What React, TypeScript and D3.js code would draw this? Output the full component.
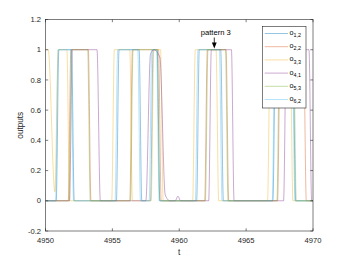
import React from "react";
import * as d3 from "d3";

type P = [number, number];

const seriesNames = ["1,2", "2,2", "3,3", "4,1", "5,3", "6,2"];
const seriesColors = ["#0072BD", "#D95319", "#EDB120", "#7E2F8E", "#77AC30", "#4DBEEE"];

const xTicks = [4950, 4955, 4960, 4965, 4970];
const xTickLabels = ["4950", "4955", "4960", "4965", "4970"];
const yTicks = [-0.2, 0, 0.2, 0.4, 0.6, 0.8, 1, 1.2];
const yTickLabels = ["-0.2", "0", "0.2", "0.4", "0.6", "0.8", "1", "1.2"];

const o12: P[] = [[4950,0],[4950.8,0],[4951.0,1],[4951.95,1],[4952.15,0],[4955.3,0],[4955.5,1],[4957.0,1],[4957.2,0],[4957.85,0],[4958.05,1],[4958.35,1],[4958.55,0],[4961.3,0],[4961.5,1],[4963.1,1],[4963.3,0],[4967.0,0],[4967.2,1],[4968.5,1],[4968.7,0],[4970,0]];
const o22: P[] = [[4950,0],[4951.7,0],[4951.9,1],[4953.2,1],[4953.4,0],[4956.3,0],[4956.5,1],[4958.45,1],[4958.65,0],[4961.9,0],[4962.1,1],[4963.5,1],[4963.7,0],[4967.35,0],[4967.55,1],[4969.3,1],[4969.5,0],[4970,0]];
const o33: P[] = [[4950,1],[4950.2,1],[4950.7,0.06],[4950.95,1],[4951.6,1],[4951.8,0],[4954.95,0],[4955.15,1],[4956.3,1],[4956.5,0],[4957.9,0],[4958.1,1],[4958.6,1],[4958.8,0],[4961.0,0],[4961.2,1],[4962.75,1],[4962.95,0],[4966.6,0],[4966.8,1],[4968.3,1],[4968.5,0],[4970,0]];
const o41: P[] = [[4950,0],[4951.8,0],[4952.0,1],[4953.85,1],[4954.1,0],[4957.5,0],[4957.85,0.97],[4958.1,1],[4958.55,0.95],[4958.95,0.04],[4959.3,0],[4959.7,0],[4959.9,0.03],[4960.1,0],[4962.2,0],[4962.4,1],[4963.9,1],[4964.1,0],[4967.8,0],[4968.0,1],[4969.7,1],[4969.9,0],[4970,0]];
const o53: P[] = [[4950,0],[4951.75,0],[4951.95,1],[4953.15,1],[4953.35,0],[4956.35,0],[4956.55,1],[4958.35,1],[4958.55,0],[4961.95,0],[4962.15,1],[4963.45,1],[4963.65,0],[4967.3,0],[4967.5,1],[4968.55,1],[4968.75,0],[4970,0]];
const o62: P[] = [[4950,0],[4950.75,0],[4950.95,1],[4951.9,1],[4952.1,0],[4955.2,0],[4955.4,1],[4956.9,1],[4957.1,0],[4957.75,0],[4957.95,1],[4958.3,1],[4958.5,0],[4961.2,0],[4961.4,1],[4963.0,1],[4963.2,0],[4966.95,0],[4967.15,1],[4968.45,1],[4968.65,0],[4970,0]];

const seriesData = [o12, o22, o33, o41, o53, o62];

const annotationText = "pattern 3";
const annotationT = 4962.62;

const W = 346, H = 260;
const L = 45.5, R = 313, T = 19.5, B = 231;
const FONT = "'Liberation Sans', Arial, Helvetica, sans-serif";
const AX = "#262626";

export default function App() {
  const x = d3.scaleLinear().domain([4950, 4970]).range([L, R]);
  const y = d3.scaleLinear().domain([-0.2, 1.2]).range([B, T]);
  const line = d3.line<P>().x(d => x(d[0])).y(d => y(d[1])).curve(d3.curveMonotoneX);
  const tl = 2.7;
  const ax = x(annotationT);

  const legX = 262.5, legY = 26.5, legW = 43.5, legH = 81.5;
  const rowY = (i: number) => 33.5 + i * 13.2;

  return (
    <svg width={W} height={H} style={{ position: "absolute", left: 0, top: 0, background: "#fff" }} fontFamily={FONT}>
      <defs>
        <clipPath id="plot"><rect x={L} y={T} width={R - L} height={B - T} /></clipPath>
      </defs>
      <rect x={0} y={0} width={W} height={H} fill="#fff" />
      <g clipPath="url(#plot)">
        {seriesData.map((s, i) => (
          <path key={i} d={line(s) || ""} fill="none" stroke={seriesColors[i]} strokeOpacity={0.55} strokeWidth={0.75} />
        ))}
      </g>
      <rect x={L} y={T} width={R - L} height={B - T} fill="none" stroke={AX} strokeWidth={0.6} />
      {xTicks.map((t, i) => (
        <g key={"x" + i}>
          <line x1={x(t)} x2={x(t)} y1={B} y2={B - tl} stroke={AX} strokeWidth={0.6} />
          <line x1={x(t)} x2={x(t)} y1={T} y2={T + tl} stroke={AX} strokeWidth={0.6} />
          <text x={x(t)} y={243} fontSize={7.6} fill={AX} textAnchor="middle">{xTickLabels[i]}</text>
        </g>
      ))}
      {yTicks.map((v, i) => (
        <g key={"y" + i}>
          <line x1={L} x2={L + tl} y1={y(v)} y2={y(v)} stroke={AX} strokeWidth={0.6} />
          <line x1={R} x2={R - tl} y1={y(v)} y2={y(v)} stroke={AX} strokeWidth={0.6} />
          <text x={41} y={y(v) + 2.7} fontSize={7.6} fill={AX} textAnchor="end">{yTickLabels[i]}</text>
        </g>
      ))}
      <text x={(L + R) / 2} y={255} fontSize={8.2} fill={AX} textAnchor="middle">t</text>
      <text transform={`translate(22.5, ${(T + B) / 2}) rotate(-90)`} fontSize={8.2} fill={AX} textAnchor="middle">outputs</text>
      <text x={ax + 1.5} y={35} fontSize={7.6} fill="#000" textAnchor="middle">{annotationText}</text>
      <line x1={ax} x2={ax} y1={37.5} y2={44} stroke="#000" strokeWidth={0.8} />
      <path d={`M${ax - 2.4},${42.5} L${ax + 2.4},${42.5} L${ax},${48.5} Z`} fill="#000" />
      <rect x={legX} y={legY} width={legW} height={legH} fill="#fff" stroke={AX} strokeWidth={0.6} />
      {seriesNames.map((n, i) => (
        <g key={"l" + i}>
          <line x1={264.7} x2={288} y1={rowY(i)} y2={rowY(i)} stroke={seriesColors[i]} strokeOpacity={0.55} strokeWidth={0.75} />
          <text x={289.5} y={rowY(i) + 1.5} fontSize={7.2} fill="#000">
            o<tspan fontSize={5.4} dy={2.2}>{n}</tspan>
          </text>
        </g>
      ))}
    </svg>
  );
}
